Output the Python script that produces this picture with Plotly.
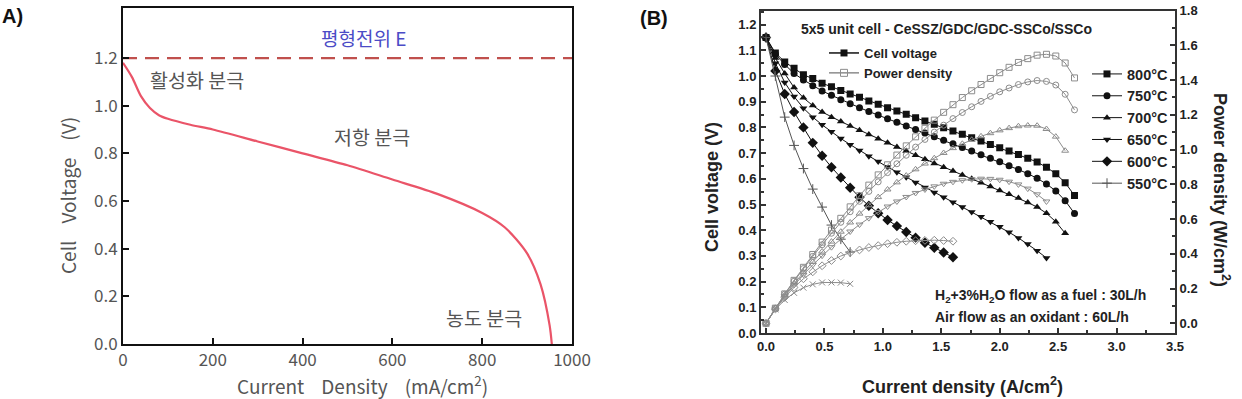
import plotly.graph_objects as go

# ---------------- Panel A data ----------------
a_current = [0, 20, 40, 60, 80, 100, 150, 200, 300, 400, 500, 600, 700, 800, 850, 900, 930, 950, 955]
a_voltage = [1.18, 1.12, 1.04, 0.99, 0.96, 0.945, 0.92, 0.90, 0.85, 0.80, 0.75, 0.69, 0.63, 0.55, 0.49, 0.38, 0.25, 0.08, 0.0]
a_eq_x = [0, 1000]
a_eq_y = [1.2, 1.2]
a_xticks = [0, 200, 400, 600, 800, 1000]
a_yticks = [0.0, 0.2, 0.4, 0.6, 0.8, 1.0, 1.2]

# ---------------- Panel B data ----------------
current_grid = [0.00, 0.08, 0.16, 0.24, 0.32, 0.40, 0.48, 0.56, 0.64, 0.72, 0.80, 0.88, 0.96, 1.04,
                1.12, 1.20, 1.28, 1.36, 1.44, 1.52, 1.60, 1.68, 1.76, 1.84, 1.92, 2.00, 2.08, 2.16,
                2.24, 2.32, 2.40, 2.48, 2.56, 2.64]
temps = ["800°C", "750°C", "700°C", "650°C", "600°C", "550°C"]

v800 = [1.150, 1.090, 1.055, 1.030, 1.005, 0.990, 0.972, 0.958, 0.944, 0.930, 0.917, 0.903, 0.890, 0.877,
        0.864, 0.851, 0.838, 0.825, 0.812, 0.799, 0.786, 0.773, 0.760, 0.747, 0.734, 0.721, 0.708, 0.695,
        0.680, 0.665, 0.645, 0.620, 0.585, 0.535]
v750 = [1.150, 1.085, 1.045, 1.010, 0.985, 0.962, 0.942, 0.925, 0.908, 0.892, 0.877, 0.862, 0.848, 0.834,
        0.820, 0.806, 0.792, 0.778, 0.764, 0.750, 0.736, 0.722, 0.708, 0.694, 0.680, 0.666, 0.651, 0.636,
        0.620, 0.602, 0.580, 0.553, 0.515, 0.465]
v700 = [1.150, 1.070, 1.010, 0.955, 0.915, 0.885, 0.860, 0.840, 0.823, 0.806, 0.789, 0.772, 0.756, 0.740,
        0.724, 0.708, 0.692, 0.676, 0.660, 0.645, 0.630, 0.615, 0.600, 0.585, 0.570, 0.555, 0.540, 0.525,
        0.508, 0.490, 0.466, 0.433, 0.388]
v650 = [1.150, 1.050, 0.975, 0.920, 0.875, 0.840, 0.810, 0.783, 0.757, 0.733, 0.710, 0.688, 0.667, 0.646,
        0.626, 0.606, 0.586, 0.566, 0.547, 0.528, 0.509, 0.490, 0.471, 0.452, 0.433, 0.413, 0.392, 0.370,
        0.346, 0.320, 0.292]
v600 = [1.150, 1.020, 0.930, 0.860, 0.800, 0.740, 0.690, 0.645, 0.605, 0.565, 0.528, 0.495, 0.466, 0.440,
        0.416, 0.393, 0.371, 0.351, 0.332, 0.313, 0.295]
v550 = [1.150, 1.000, 0.840, 0.730, 0.640, 0.560, 0.490, 0.420, 0.365, 0.315]

p800 = [0.000, 0.087, 0.169, 0.247, 0.322, 0.396, 0.467, 0.536, 0.604, 0.670, 0.734, 0.795, 0.854, 0.912,
        0.968, 1.021, 1.073, 1.122, 1.169, 1.214, 1.258, 1.299, 1.338, 1.374, 1.409, 1.442, 1.473, 1.501,
        1.523, 1.543, 1.548, 1.538, 1.498, 1.412]
p750 = [0.000, 0.087, 0.167, 0.242, 0.315, 0.385, 0.452, 0.518, 0.581, 0.642, 0.702, 0.759, 0.814, 0.867,
        0.918, 0.967, 1.014, 1.058, 1.100, 1.140, 1.178, 1.213, 1.246, 1.277, 1.306, 1.332, 1.354, 1.374,
        1.389, 1.397, 1.392, 1.371, 1.318, 1.228]
p700 = [0.000, 0.086, 0.162, 0.229, 0.293, 0.354, 0.413, 0.470, 0.527, 0.580, 0.631, 0.679, 0.726, 0.770,
        0.811, 0.850, 0.886, 0.919, 0.950, 0.980, 1.008, 1.033, 1.056, 1.076, 1.094, 1.110, 1.123, 1.134,
        1.138, 1.137, 1.118, 1.074, 0.993]
p650 = [0.000, 0.084, 0.156, 0.221, 0.280, 0.336, 0.389, 0.438, 0.484, 0.528, 0.568, 0.605, 0.640, 0.672,
        0.701, 0.727, 0.750, 0.770, 0.788, 0.803, 0.814, 0.823, 0.829, 0.832, 0.831, 0.826, 0.815, 0.799,
        0.775, 0.742, 0.701]
p600 = [0.000, 0.082, 0.149, 0.206, 0.256, 0.296, 0.331, 0.361, 0.387, 0.407, 0.422, 0.436, 0.447, 0.458,
        0.466, 0.472, 0.475, 0.477, 0.478, 0.476, 0.472]
p550 = [0.000, 0.080, 0.134, 0.175, 0.205, 0.224, 0.235, 0.235, 0.234, 0.227]

voltages = [v800, v750, v700, v650, v600, v550]
powers = [p800, p750, p700, p650, p600, p550]
v_symbols = ["square", "circle", "triangle-up", "triangle-down", "diamond", "cross-thin"]
p_symbols = ["square-open", "circle-open", "triangle-up-open", "triangle-down-open", "diamond-open", "x-thin"]

W, H = 1242, 399
def px(x):
    return x / W
def py(y):
    return 1 - y / H

fig = go.Figure()

# ---- Panel A ----
fig.add_trace(go.Scatter(x=a_eq_x, y=a_eq_y, mode="lines", xaxis="x", yaxis="y", showlegend=False,
                         line=dict(color="#c0504d", width=2.2, dash="14px,8px")))
fig.add_trace(go.Scatter(x=a_current, y=a_voltage, mode="lines", xaxis="x", yaxis="y", showlegend=False,
                         line=dict(color="#ea5468", width=2.2, shape="spline", smoothing=0.8)))

# ---- Panel B: power (right axis) ----
PGRAY = "#8c8c8c"
for name, p, sym in zip(temps, powers, p_symbols):
    mk = dict(symbol=sym, size=6, color=PGRAY, line=dict(width=1, color=PGRAY))
    fig.add_trace(go.Scatter(x=current_grid[:len(p)], y=p, mode="lines+markers", xaxis="x2", yaxis="y3",
                             showlegend=False, line=dict(color=PGRAY, width=1), marker=mk))

# ---- Panel B: voltage (left axis) ----
for name, v, sym in zip(temps, voltages, v_symbols):
    if sym == "cross-thin":
        mk = dict(symbol=sym, size=7, color="#555", line=dict(width=1, color="#555"))
        ln = dict(color="#555", width=1)
    else:
        mk = dict(symbol=sym, size=7 if sym != "diamond" else 8, color="#111", line=dict(width=0))
        ln = dict(color="#111", width=1)
    fig.add_trace(go.Scatter(x=current_grid[:len(v)], y=v, mode="lines+markers", xaxis="x2", yaxis="y2",
                             name=name, legend="legend2", line=ln, marker=mk))

# legend 1 entries (series kind)
fig.add_trace(go.Scatter(x=[None], y=[None], mode="lines+markers", xaxis="x2", yaxis="y2",
                         name="Cell voltage", legend="legend",
                         line=dict(color="#111", width=1.5), marker=dict(symbol="square", size=7, color="#111")))
fig.add_trace(go.Scatter(x=[None], y=[None], mode="lines+markers", xaxis="x2", yaxis="y2",
                         name="Power density", legend="legend",
                         line=dict(color=PGRAY, width=1.5),
                         marker=dict(symbol="square-open", size=7, color=PGRAY, line=dict(width=1, color=PGRAY))))

A_FONT = "Noto Sans CJK KR, Noto Sans, sans-serif"
B_FONT = "Liberation Sans, Arial, sans-serif"
NB = "\u00a0"

def ann(text, x, y, xref="paper", yref="paper", xanchor="center", size=14, color="#222", family=B_FONT, angle=0):
    return dict(text=text, x=x, y=y, xref=xref, yref=yref, xanchor=xanchor, yanchor="middle",
                showarrow=False, textangle=angle, font=dict(family=family, size=size, color=color))

annotations = [
    # Panel A
    ann("평형전위 E", 535, 1.285, "x", "y", size=19, color="#4b4bc6", family=A_FONT),
    ann("활성화 분극", 165, 1.11, "x", "y", size=19.5, color="#555", family=A_FONT),
    ann("저항 분극", 555, 0.87, "x", "y", size=19.5, color="#555", family=A_FONT),
    ann("농도 분극", 805, 0.11, "x", "y", size=19.5, color="#555", family=A_FONT),
    ann(f"Cell{NB*4}Voltage{NB*4}(V)", px(67), py(196), size=19, color="#555", family=A_FONT, angle=-90),
    ann(f"Current{NB*4}Density{NB*4}(mA/cm<sup>2</sup>)", px(362), py(385), size=19, color="#555", family=A_FONT),
    ann("<b>A)</b>", 0, py(16), xanchor="left", size=20, color="#111"),
    # Panel B
    ann("<b>(B)</b>", px(638), py(18), xanchor="left", size=20, color="#111"),
    ann("<b>5x5 unit cell - CeSSZ/GDC/GDC-SSCo/SSCo</b>", px(946), py(29), size=14),
    ann("<b>H<sub>2</sub>+3%H<sub>2</sub>O flow as a fuel : 30L/h</b>", px(933), py(296), xanchor="left", size=14),
    ann("<b>Air flow as an oxidant : 60L/h</b>", px(933), py(317), xanchor="left", size=14),
    ann("<b>Cell voltage (V)</b>", px(712), py(187), size=18, angle=-90),
    ann("<b>Current density (A/cm<sup>2</sup>)</b>", px(962), py(385), size=18),
    ann("<b>Power density (W/cm<sup>2</sup>)</b>", px(1222), py(190), size=18, angle=90),
]

a_axis_common = dict(showline=True, linecolor="#111", linewidth=2, mirror=True, ticks="inside",
                     ticklen=6, tickwidth=2, tickcolor="#111", showgrid=False, zeroline=False,
                     automargin=False, tickfont=dict(family=A_FONT, size=17, color="#555"))
b_tickfont = dict(family=B_FONT, size=13, color="#222", weight="bold")

fig.update_layout(
    width=W, height=H, margin=dict(l=0, r=0, t=0, b=0, autoexpand=False),
    paper_bgcolor="white", plot_bgcolor="white",
    font=dict(family=B_FONT),
    xaxis=dict(domain=[px(123), px(572)], range=[0, 1000], anchor="y", tickvals=a_xticks,
               **a_axis_common),
    yaxis=dict(domain=[py(344), py(8)], range=[0, 1.41], anchor="x", tickvals=a_yticks,
               tickformat=".1f", **a_axis_common),
    xaxis2=dict(domain=[px(761), px(1175)], range=[-0.043, 3.5], anchor="y2", tick0=0, dtick=0.5,
                tickformat=".1f", showline=True, linecolor="#333", linewidth=2, mirror=True,
                ticks="inside", ticklen=5, tickwidth=1.5, tickcolor="#333", automargin=False,
                minor=dict(ticks="inside", dtick=0.25, tick0=0, ticklen=3, tickcolor="#333"),
                showgrid=False, zeroline=False, tickfont=b_tickfont),
    yaxis2=dict(domain=[py(333), py(10.5)], range=[0, 1.255], anchor="x2", tick0=0, dtick=0.1,
                tickformat=".1f", showline=True, linecolor="#333", linewidth=2, automargin=False,
                ticks="inside", ticklen=5, tickwidth=1.5, tickcolor="#333",
                minor=dict(ticks="inside", dtick=0.05, tick0=0, ticklen=3, tickcolor="#333"),
                showgrid=False, zeroline=False, tickfont=b_tickfont),
    yaxis3=dict(overlaying="y2", side="right", anchor="x2", range=[-0.056, 1.80], tick0=0, dtick=0.2,
                tickformat=".1f", showline=True, linecolor="#333", linewidth=2, automargin=False,
                ticks="inside", ticklen=5, tickwidth=1.5, tickcolor="#333",
                minor=dict(ticks="inside", dtick=0.1, tick0=0, ticklen=3, tickcolor="#333"),
                showgrid=False, zeroline=False, tickfont=b_tickfont),
    legend=dict(x=px(824), y=py(38), xanchor="left", yanchor="top", bgcolor="rgba(0,0,0,0)",
                font=dict(family=B_FONT, size=13, color="#222", weight="bold"), tracegroupgap=0),
    legend2=dict(x=px(1087), y=py(58), xanchor="left", yanchor="top", bgcolor="rgba(0,0,0,0)",
                 font=dict(family=B_FONT, size=14.5, color="#222", weight="bold"), tracegroupgap=0),
    annotations=annotations,
)

fig.write_html("out.html")
